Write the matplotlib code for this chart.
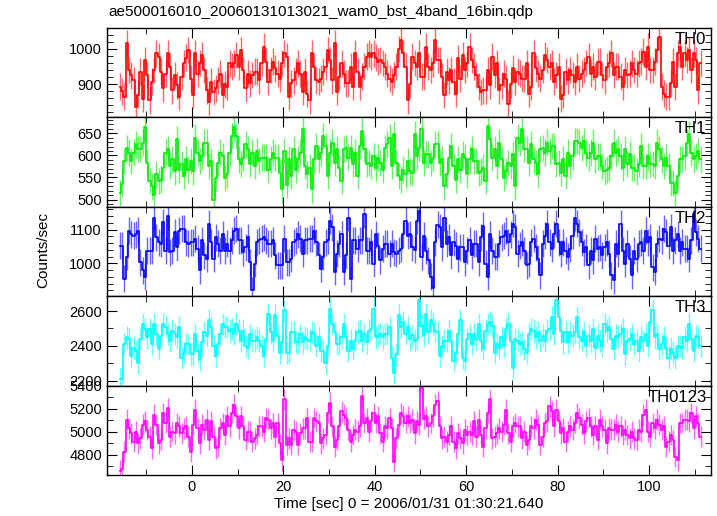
import numpy as np
import matplotlib
matplotlib.use("Agg")
import matplotlib.pyplot as plt
from matplotlib.ticker import MultipleLocator

# light curve, 0.5 s bins starting at t = -16 s
T0 = -16.0
DT = 0.5

th0 = [
    893, 880, 864, 1016, 940, 925, 911, 835, 870, 935,
    859, 969, 926, 854, 907, 940, 988, 978, 935, 888,
    930, 988, 950, 883, 926, 897, 864, 921, 959, 975,
    997, 916, 869, 988, 930, 960, 983, 940, 883, 850,
    907, 878, 888, 910, 930, 869, 900, 893, 959, 950,
    959, 983, 950, 997, 940, 888, 930, 902, 926, 935,
    935, 911, 960, 1007, 964, 907, 940, 964, 945, 930,
    916, 960, 988, 978, 864, 902, 911, 935, 959, 930,
    878, 935, 873, 854, 988, 950, 911, 907, 916, 935,
    950, 997, 969, 911, 1016, 878, 921, 959, 930, 902,
    902, 950, 893, 988, 935, 893, 921, 950, 978, 988,
    978, 988, 975, 964, 969, 960, 950, 930, 916, 907,
    926, 950, 1000, 1026, 988, 950, 854, 900, 978, 960,
    950, 988, 921, 921, 1007, 950, 940, 959, 1026, 969,
    969, 921, 869, 935, 911, 940, 907, 873, 973, 916,
    983, 940, 959, 1007, 969, 950, 926, 893, 878, 883,
    883, 940, 897, 978, 926, 959, 883, 897, 930, 916,
    845, 900, 945, 907, 935, 930, 916, 916, 959, 873,
    893, 988, 945, 930, 916, 940, 983, 969, 950, 959,
    907, 926, 950, 859, 870, 935, 911, 940, 926, 907,
    950, 916, 930, 940, 960, 978, 930, 950, 921, 964,
    964, 926, 911, 950, 959, 988, 926, 950, 950, 921,
    893, 940, 926, 930, 959, 940, 930, 959, 964, 992,
    950, 1007, 940, 940, 964, 997, 1035, 893, 873, 864,
    864, 902, 964, 893, 988, 1007, 950, 988, 969, 997,
    940, 988, 969, 883, 959,
]

th1 = [
    515, 535, 587, 617, 606, 587, 606, 625, 614, 614,
    629, 663, 583, 542, 530, 511, 557, 542, 545, 572,
    606, 614, 576, 591, 564, 636, 568, 580, 553, 591,
    568, 587, 564, 640, 606, 587, 598, 629, 629, 576,
    587, 500, 549, 583, 606, 598, 549, 557, 606, 644,
    663, 644, 591, 580, 595, 625, 614, 580, 606, 576,
    610, 587, 595, 595, 595, 568, 591, 606, 595, 595,
    561, 523, 610, 534, 591, 553, 614, 568, 591, 606,
    659, 576, 557, 572, 523, 591, 621, 591, 606, 644,
    621, 553, 606, 629, 583, 614, 572, 542, 614, 617,
    595, 617, 580, 606, 553, 621, 655, 614, 580, 583,
    576, 598, 572, 595, 583, 568, 617, 625, 640, 576,
    648, 583, 553, 545, 568, 557, 587, 564, 561, 648,
    598, 617, 659, 583, 602, 602, 583, 595, 625, 625,
    583, 591, 530, 557, 595, 621, 576, 545, 591, 568,
    602, 595, 557, 591, 614, 587, 587, 561, 564, 572,
    542, 666, 636, 595, 614, 576, 629, 591, 549, 564,
    583, 576, 602, 530, 640, 629, 659, 614, 614, 583,
    625, 591, 583, 557, 614, 617, 606, 629, 610, 621,
    621, 580, 583, 561, 591, 553, 606, 576, 598, 632,
    632, 629, 617, 632, 606, 595, 606, 629, 591, 598,
    598, 576, 564, 568, 572, 598, 629, 606, 614, 598,
    572, 614, 580, 602, 572, 572, 564, 580, 621, 576,
    576, 598, 580, 580, 576, 629, 614, 591, 576, 595,
    576, 538, 538, 515, 553, 591, 591, 598, 629, 648,
    606, 591, 598, 610, 591,
]

th2 = [
    1053, 1053, 955, 1019, 1097, 1087, 1082, 1087, 1097, 1004,
    980, 960, 1038, 1038, 1038, 1136, 1077, 1063, 1058, 1122,
    1038, 1141, 1033, 1038, 1092, 1048, 1097, 1102, 1102, 1063,
    1058, 1063, 1063, 1073, 1043, 980, 1068, 1024, 1014, 1117,
    1063, 1014, 1077, 1058, 1038, 1087, 1038, 1058, 1038, 1068,
    1097, 1102, 1068, 1068, 1033, 1048, 1077, 1004, 921, 999,
    1063, 1068, 1073, 1077, 1068, 1058, 1058, 1068, 1024, 994,
    994, 994, 1073, 1004, 1004, 1014, 1063, 1068, 1087, 1073,
    1028, 1068, 1068, 1073, 1073, 1097, 1063, 1024, 984, 1019,
    1063, 1068, 1126, 1107, 975, 1028, 1058, 1087, 975, 1024,
    1136, 955, 1068, 1068, 1043, 1068, 1068, 1146, 1038, 1038,
    1063, 999, 1087, 1053, 1009, 1043, 1058, 1058, 1028, 1058,
    1033, 1028, 1038, 1043, 1087, 1126, 1082, 1087, 1048, 1040,
    1126, 1156, 1019, 1082, 1038, 1009, 960, 926, 1063, 1115,
    1107, 1048, 1136, 1058, 1077, 1024, 1063, 1053, 1014, 1048,
    1048, 1004, 1038, 1068, 1024, 1058, 1058, 1004, 1077, 1112,
    999, 960, 1087, 1038, 1019, 1019, 1058, 1077, 1082, 1097,
    1063, 1087, 1117, 1107, 1028, 1053, 1063, 1038, 994, 999,
    1063, 1073, 1048, 1014, 965, 1058, 1082, 1117, 1063, 1043,
    1087, 1117, 1063, 1028, 1063, 1038, 1019, 1043, 1082, 1136,
    1117, 1092, 1063, 1033, 1048, 994, 1038, 1009, 1073, 1043,
    1048, 1024, 1048, 1063, 1028, 965, 950, 1058, 1028, 1117,
    1038, 999, 1058, 1014, 965, 1038, 1014, 1058, 1063, 1038,
    1097, 1063, 1077, 989, 975, 1058, 1073, 1068, 1102, 1092,
    1053, 1107, 1038, 1068, 1087, 1038, 1063, 1043, 1043, 1014,
    1068, 1146, 1092, 1073, 1043,
]

th3 = [
    2206, 2206, 2410, 2449, 2440, 2342, 2390, 2371, 2303, 2439,
    2526, 2497, 2449, 2497, 2410, 2526, 2468, 2381, 2458, 2526,
    2507, 2468, 2429, 2487, 2468, 2449, 2507, 2332, 2361, 2410,
    2410, 2351, 2351, 2468, 2371, 2322, 2419, 2478, 2458, 2546,
    2507, 2400, 2342, 2410, 2468, 2526, 2507, 2507, 2487, 2497,
    2468, 2526, 2487, 2429, 2487, 2400, 2390, 2468, 2429, 2429,
    2449, 2429, 2400, 2342, 2439, 2584, 2478, 2429, 2575, 2458,
    2361, 2419, 2604, 2361, 2361, 2478, 2478, 2419, 2419, 2468,
    2419, 2449, 2439, 2429, 2478, 2468, 2400, 2449, 2371, 2371,
    2303, 2400, 2614, 2526, 2478, 2410, 2410, 2449, 2526, 2449,
    2371, 2429, 2381, 2429, 2478, 2487, 2429, 2468, 2419, 2487,
    2497, 2614, 2449, 2458, 2468, 2449, 2468, 2468, 2507, 2332,
    2245, 2351, 2575, 2507, 2536, 2468, 2507, 2439, 2460, 2430,
    2440, 2662, 2516, 2460, 2584, 2478, 2546, 2526, 2487, 2478,
    2342, 2400, 2429, 2429, 2487, 2429, 2313, 2361, 2468, 2546,
    2332, 2313, 2439, 2468, 2410, 2468, 2439, 2526, 2429, 2381,
    2487, 2526, 2536, 2516, 2361, 2410, 2390, 2449, 2400, 2497,
    2526, 2429, 2274, 2439, 2429, 2410, 2419, 2381, 2361, 2468,
    2497, 2487, 2449, 2478, 2429, 2458, 2429, 2487, 2497, 2565,
    2468, 2662, 2565, 2487, 2419, 2478, 2419, 2478, 2458, 2478,
    2565, 2449, 2429, 2478, 2400, 2458, 2429, 2497, 2390, 2458,
    2429, 2400, 2526, 2487, 2507, 2439, 2381, 2458, 2449, 2468,
    2497, 2351, 2429, 2439, 2468, 2410, 2429, 2371, 2449, 2429,
    2468, 2400, 2536, 2604, 2449, 2468, 2381, 2410, 2449, 2390,
    2332, 2381, 2361, 2332, 2400, 2400, 2390, 2449, 2429, 2526,
    2439, 2371, 2458, 2449, 2400,
]

th0123 = [
    4660, 4677, 4824, 5103, 5029, 4985, 4912, 5000, 4897, 4941,
    5059, 5088, 5015, 4956, 4853, 5147, 5059, 4897, 4926, 5162,
    5073, 5206, 4956, 5000, 4985, 5073, 5044, 4985, 5029, 5044,
    4956, 4824, 5059, 5191, 5029, 4897, 5059, 5015, 5103, 4926,
    5088, 4956, 4853, 4868, 5029, 5073, 4971, 5132, 5044, 5162,
    5235, 5132, 5029, 5132, 5044, 4926, 5000, 5000, 4912, 4941,
    4971, 5044, 5044, 5000, 5118, 5103, 5029, 5073, 4956, 5073,
    4897, 4750, 5279, 4882, 4941, 4882, 5015, 5000, 4882, 4985,
    5029, 5029, 5118, 4912, 4912, 5118, 5088, 5073, 4897, 4941,
    4971, 5162, 5250, 5044, 4868, 4926, 5044, 5176, 5147, 5118,
    5015, 4912, 4971, 5015, 5000, 5044, 5309, 5073, 5118, 5000,
    5088, 5162, 5073, 5132, 4985, 4912, 5044, 5029, 5118, 5029,
    4735, 4941, 5059, 5162, 5132, 5073, 5132, 5073, 5103, 4985,
    5088, 5059, 5382, 5110, 5132, 5044, 5073, 5132, 5235, 5265,
    5044, 4941, 4956, 4912, 4971, 5044, 4912, 4853, 4985, 4941,
    4897, 5015, 4971, 5000, 4971, 5088, 4956, 5103, 4971, 4868,
    5029, 5162, 5279, 4941, 4956, 4985, 5029, 5000, 5059, 5191,
    4985, 4912, 5044, 5073, 5044, 5044, 4941, 5000, 4882, 4926,
    5044, 5029, 5103, 5059, 4882, 4956, 5073, 5088, 5220, 5176,
    5044, 5191, 5088, 4985, 5029, 4912, 5000, 5044, 5015, 5073,
    5162, 5118, 5059, 4985, 5088, 5118, 5044, 4971, 5044, 4926,
    5103, 5044, 5015, 4897, 5029, 5015, 5015, 5059, 5000, 5044,
    4971, 5015, 4971, 4941, 5000, 4941, 4926, 5015, 5000, 5147,
    5191, 5000, 4956, 5073, 5029, 5103, 5059, 5015, 5044, 4868,
    4912, 4971, 4926, 4779, 4750, 5073, 5073, 5103, 5103, 5088,
    5162, 5029, 5132, 5073, 4956,
]

names = ["TH0", "TH1", "TH2", "TH3", "TH0123"]
series = [th0, th1, th2, th3, th0123]
errors = [38, 30, 40, 65, 90]
colors = ["#ff0000", "#00ee00", "#0000ff", "#00ffff", "#ff00ff"]
ylims = [(806, 1060), (484, 686), (903, 1168), (2171, 2686), (4622, 5400)]
ymajor = [100, 50, 100, 200, 200]
yminor = [20, 10, 20, 100, 100]

plt.rcParams["font.family"] = ["Liberation Sans", "DejaVu Sans"]

fig = plt.figure(figsize=(7.17, 5.16), dpi=100)
fig.subplots_adjust(left=0.149, right=0.992, top=0.946, bottom=0.0795, hspace=0)
axes = fig.subplots(5, 1, sharex=True)

for ax, name, vals, err, col, yl, ma, mi in zip(axes, names, series, errors,
                                                 colors, ylims, ymajor, yminor):
    y = np.array(vals, dtype=float)
    t = T0 + DT * (np.arange(len(y)) + 0.5)
    ax.errorbar(t, y, yerr=err, fmt="none", ecolor=col, elinewidth=1.0, alpha=0.6)
    ax.step(t, y, where="mid", color=col, lw=1.2)
    ax.set_ylim(*yl)
    ax.set_xlim(-18.6, 113.6)
    ax.yaxis.set_major_locator(MultipleLocator(ma))
    ax.yaxis.set_minor_locator(MultipleLocator(mi))
    ax.xaxis.set_major_locator(MultipleLocator(20))
    ax.xaxis.set_minor_locator(MultipleLocator(10))
    ax.tick_params(which="both", direction="in", top=True, right=True, labelsize=10.5)
    ax.tick_params(which="major", length=7, width=0.8)
    ax.tick_params(which="minor", length=4, width=0.6)
    for s in ax.spines.values():
        s.set_linewidth(1.0)
    ax.text(0.992, 0.87, name, transform=ax.transAxes, ha="right", va="center",
            fontsize=12)

axes[-1].set_xlabel("Time [sec] 0 = 2006/01/31 01:30:21.640", fontsize=11, labelpad=2)
fig.text(0.06, 0.515, "Counts/sec", rotation=90, ha="center", va="center", fontsize=11)
fig.text(0.151, 0.977, "ae500016010_20060131013021_wam0_bst_4band_16bin.qdp",
         ha="left", va="center", fontsize=11)

fig.savefig("out.png", dpi=100)
